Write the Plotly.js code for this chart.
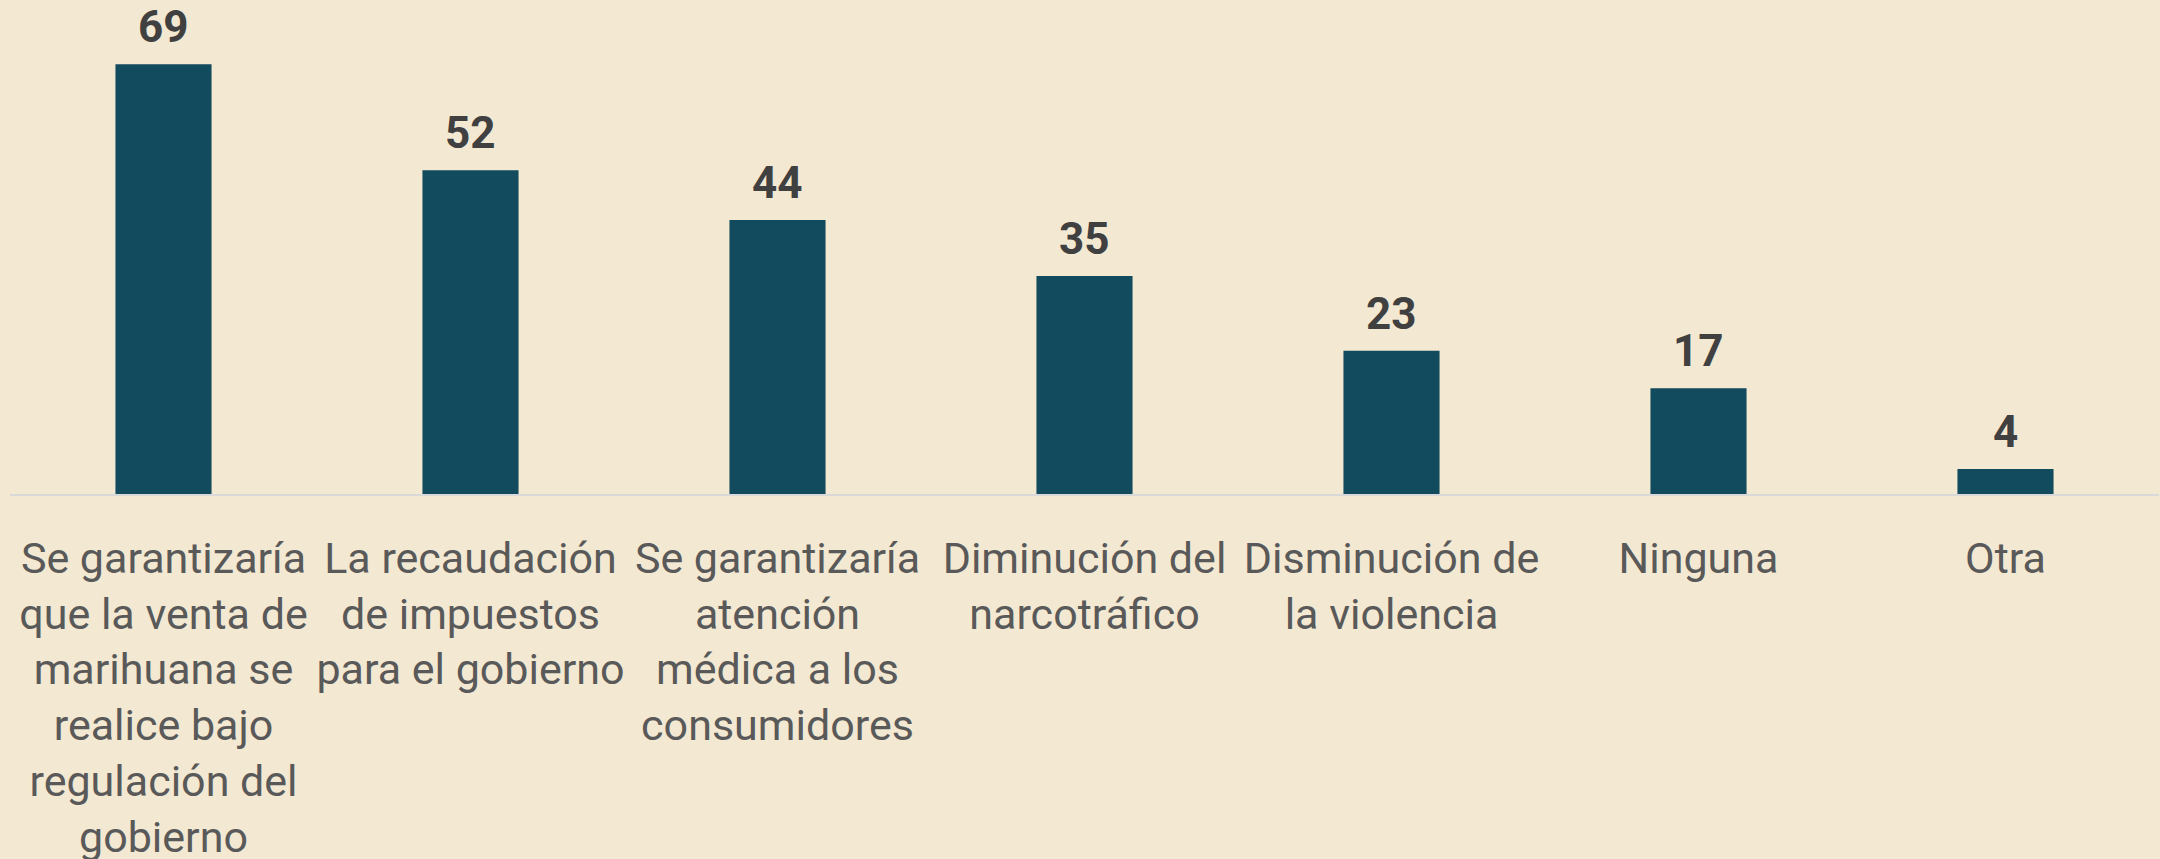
<!DOCTYPE html>
<html>
<head>
<meta charset="utf-8">
<script src="https://cdn.plot.ly/plotly-3.0.1.min.js"></script>
<style>
  html, body { margin: 0; padding: 0; background: #F3E8D2; }
  #chart { width: 2160px; height: 859px; }
</style>
</head>
<body>
<div id="chart"></div>
<script>
const categories = [
  "Se garantizaría<br>que la venta de<br>marihuana se<br>realice bajo<br>regulación del<br>gobierno",
  "La recaudación<br>de impuestos<br>para el gobierno",
  "Se garantizaría<br>atención<br>médica a los<br>consumidores",
  "Diminución del<br>narcotráfico",
  "Disminución de<br>la violencia",
  "Ninguna",
  "Otra"
];
const values = [69, 52, 44, 35, 23, 17, 4];

const trace = {
  type: "bar",
  x: categories,
  y: values,
  width: 0.313,
  marker: { color: "#124A5E", line: { width: 0 } },
  hoverinfo: "none"
};

const annotations = categories.map((c, i) => ({
  x: c,
  y: values[i],
  xref: "x",
  yref: "y",
  text: String(values[i]),
  showarrow: false,
  yanchor: "bottom",
  yshift: 9,
  font: { family: "Roboto", size: 44, color: "#404040", weight: 700 }
}));

const layout = {
  width: 2160,
  height: 859,
  margin: { l: 10, r: 1, t: 27, b: 365, pad: 0 },
  paper_bgcolor: "#F3E8D2",
  plot_bgcolor: "#F3E8D2",
  showlegend: false,
  bargap: 0.687,
  xaxis: {
    type: "category",
    showgrid: false,
    zeroline: false,
    showline: true,
    linecolor: "#D9D9D9",
    linewidth: 2,
    ticks: "",
    automargin: false,
    tickangle: 0,
    ticklabelstandoff: 25,
    tickfont: { family: "Roboto", size: 43, color: "#595959" }
  },
  yaxis: {
    range: [0, 75],
    visible: false,
    showgrid: false,
    zeroline: false,
    fixedrange: true
  },
  annotations: annotations
};

Plotly.newPlot("chart", [trace], layout, { displayModeBar: false, staticPlot: true });
</script>
</body>
</html>
